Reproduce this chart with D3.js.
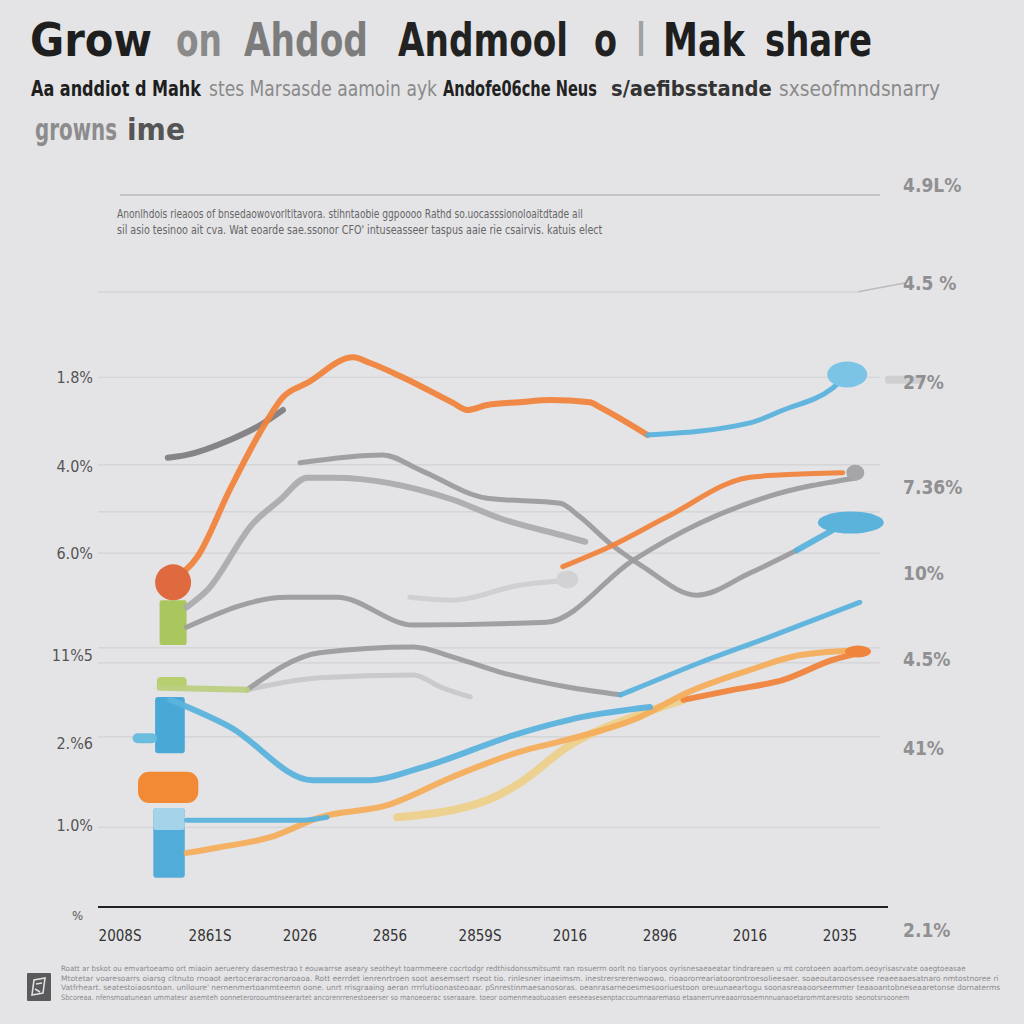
<!DOCTYPE html>
<html>
<head>
<meta charset="utf-8">
<script src="https://cdn.jsdelivr.net/npm/d3@7/dist/d3.min.js"></script>
<style>
  html, body { margin: 0; padding: 0; background: #e4e4e6; }
  svg { display: block; }
</style>
</head>
<body>
<svg id="chart" width="1024" height="1024"></svg>
<script>
// ---------------- DATA ----------------
const xLabels = ["2008S", "2861S", "2026", "2856", "2859S", "2016", "2896", "2016", "2035"];
const xTicks = [0, 1, 2, 3, 4, 5, 6, 7, 8];

const gridValues = [100, 86.4, 74.4, 62.1, 55.5, 49.7, 36.4, 34.3, 23.9, 11.2];
const leftLabels = ["1.8%", "4.0%", "6.0%", "11%5", "2.%6", "1.0%"];
const leftLabelValues = [74.4, 61.9, 49.7, 35.4, 23.0, 11.5];
const rightLabels = ["4.9L%", "4.5 %", "27%", "7.36%", "10%", "4.5%", "41%", "2.1%"];
const rightLabelValues = [101.4, 87.6, 73.7, 59.0, 46.9, 34.8, 22.3, -3.2];

// series: [x index, value]
const orangeMain = [[0.59,45.9],[0.86,49.2],[1.22,58.6],[1.59,67.4],[1.81,71.6],[2.08,73.6],[2.59,77.2],[2.78,76.4],[3.14,74.4],[3.70,70.8],[3.86,69.8],[4.08,70.5],[4.44,70.9],[4.78,71.2],[5.22,70.9],[5.33,70.2],[5.86,66.3]];
const blueTop = [[5.86,66.3],[7.0,68.0],[7.37,69.8],[7.92,72.9],[8.08,74.7]];
const grayShort = [[0.53,63.1],[0.74,63.5],[1.22,65.6],[1.56,67.7],[1.81,69.8]];
const grayUpper = [[2.0,62.4],[2.92,63.5],[3.33,61.4],[4.08,57.4],[4.89,56.7],[5.11,54.8],[5.44,51.1],[5.81,47.8],[6.41,43.8],[7.0,46.9],[7.52,50.1]];
const blueUpperEnd = [[7.52,50.1],[7.86,52.5],[8.08,54.1]];
const grayLight = [[0.74,42.1],[0.97,44.5],[1.48,53.9],[1.78,57.2],[2.08,60.3],[2.37,60.3],[3.70,57.2],[4.22,54.6],[4.97,52.0],[5.17,51.3]];
const orangeSecond = [[4.92,47.8],[5.44,50.6],[6.08,54.8],[6.97,60.3],[7.37,60.7],[8.03,61.0]];
const grayDark = [[0.74,39.3],[1.86,43.5],[2.41,43.5],[3.26,39.6],[4.74,40.0],[5.70,48.7],[6.44,53.9],[7.19,57.6],[8.19,60.3]];
const grayFaint = [[3.22,43.5],[3.70,43.1],[4.44,45.2],[4.97,45.9]];
const greenStart = [[0.44,30.8],[1.41,30.5]];
const grayLower = [[1.41,30.5],[2.22,35.7],[3.26,36.5],[3.70,35.1],[4.22,33.0],[4.97,30.9],[5.56,29.8]];
const blueLowerEnd = [[5.56,29.8],[5.70,30.5],[6.44,34.3],[7.19,37.8],[8.22,42.8]];
const grayLowerLight = [[1.41,30.5],[2.22,32.2],[3.26,32.6],[3.56,30.9],[3.89,29.5]];
const blueMain = [[0.56,29.1],[1.22,25.3],[2.14,17.8],[2.78,17.8],[3.33,19.5],[4.44,24.4],[5.14,26.7],[5.89,28.1]];
const peachLine = [[0.74,7.6],[1.11,8.4],[1.67,9.8],[2.22,12.6],[2.97,14.3],[3.70,18.3],[4.44,21.8],[4.97,23.5],[5.78,26.7],[6.30,30.1],[7.0,33.3],[7.56,35.4],[8.26,36.1]];
const yellowLine = [[3.08,12.6],[4.08,15.0],[4.44,17.4],[4.97,22.5],[5.81,27.2],[6.26,29.1]];
const orangeLowerEnd = [[6.26,29.1],[6.81,30.5],[7.37,31.9],[7.92,34.7],[8.26,35.8]];
const blueFlat = [[0.74,12.2],[2.03,12.2],[2.3,12.6]];

// decorative blocks at the start of the lines: [x0, x1, y0, y1]
const blocks = [
  { name: "greenBar",  v: [0.44, 0.74, 36.8, 43.1] },
  { name: "greenCap",  v: [0.41, 0.74, 30.5, 32.3] },
  { name: "blueBar",   v: [0.39, 0.72, 21.6, 29.5] },
  { name: "blueTab",   v: [0.14, 0.41, 23.0, 24.4] },
  { name: "orangePill",v: [0.20, 0.87, 14.6, 19.0] },
  { name: "lightBlue", v: [0.37, 0.72, 4.1, 13.9] },
  { name: "lightBlueTop", v: [0.37, 0.72, 10.8, 13.9] }
];
// end dots: [x, y]
const dots = [
  { name: "redBlob", v: [0.59, 45.6] },
  { name: "blueTopBlob", v: [8.08, 74.8] },
  { name: "blueMidBlob", v: [8.12, 54.0] },
  { name: "grayEnd", v: [8.17, 61.0] },
  { name: "grayFaintEnd", v: [4.97, 46.0] },
  { name: "peachEnd", v: [8.2, 35.9] }
];

// ---------------- STYLES ----------------
const C = {
  orange: "#f0843c", blue: "#5bb3dc", grayD: "#808082", grayM: "#9c9c9e",
  grayL: "#c2c2c4", grayF: "#cfcfd1", green: "#a9c65f", peach: "#f4ae5c",
  yellow: "#edd08c"
};
const seriesList = [
  { d: grayLight, c: "#acacae", w: 6 },
  { d: grayFaint, c: C.grayF, w: 5 },
  { d: grayLowerLight, c: "#c8c8ca", w: 5 },
  { d: grayUpper, c: C.grayM, w: 5 },
  { d: blueUpperEnd, c: C.blue, w: 6 },
  { d: grayDark, c: C.grayM, w: 5 },
  { d: grayLower, c: C.grayM, w: 5 },
  { d: greenStart, c: "#bccf80", w: 6 },
  { d: blueLowerEnd, c: C.blue, w: 5 },
  { d: yellowLine, c: C.yellow, w: 8 },
  { d: orangeLowerEnd, c: C.orange, w: 6 },
  { d: peachLine, c: C.peach, w: 6 },
  { d: blueMain, c: C.blue, w: 6 },
  { d: blueFlat, c: C.blue, w: 5 },
  { d: orangeSecond, c: C.orange, w: 5 },
  { d: grayShort, c: C.grayD, w: 6 },
  { d: orangeMain, c: C.orange, w: 6 },
  { d: blueTop, c: C.blue, w: 5 }
];
const blockStyle = {
  greenBar: { fill: C.green, rx: 2 },
  greenCap: { fill: "#b7cf6e", rx: 4 },
  blueBar: { fill: "#4aa8d6", rx: 3 },
  blueTab: { fill: "#6bbde0", rx: 5 },
  orangePill: { fill: "#f28a35", rx: 11 },
  lightBlue: { fill: "#52acd8", rx: 3 },
  lightBlueTop: { fill: "#a5d3ea", rx: 3 }
};
const dotStyle = {
  redBlob: { fill: "#e06a40", rx: 18, ry: 18 },
  blueTopBlob: { fill: "#7cc4e6", rx: 20, ry: 13 },
  blueMidBlob: { fill: "#5bb3dc", rx: 33, ry: 11 },
  grayEnd: { fill: "#a6a6a8", rx: 9, ry: 8 },
  grayFaintEnd: { fill: "#d2d2d4", rx: 11, ry: 9 },
  peachEnd: { fill: C.orange, rx: 13, ry: 6 }
};

// ---------------- DRAW ----------------
const svg = d3.select("#chart");
svg.append("rect").attr("width", 1024).attr("height", 1024).attr("fill", "#e4e4e6");

const x = d3.scaleLinear().domain([0, 8]).range([120, 840]);
const y = d3.scaleLinear().domain([0, 100]).range([907, 195]);
const FONT = '"Liberation Sans Narrow", "DejaVu Sans Condensed", sans-serif';

// text squeezed horizontally to a target width (via transform, so its box is real)
function fitText(parent, o) {
  const g = parent.append("g").attr("transform", `translate(${o.x0},${o.y})`);
  const t = g.append("text").attr("x", 0).attr("y", 0)
    .attr("font-family", FONT).attr("font-weight", o.b || "normal")
    .attr("font-size", o.s).attr("fill", o.c).text(o.t);
  const nat = t.node().getComputedTextLength();
  const sx = nat > 0 ? o.w / nat : 1;
  t.attr("transform", `scale(${sx},1)`);
  return t;
}

// Title pieces
const titleParts = [
  { t: "Grow", x0: 30, w: 122, c: "#1e1e1e" },
  { t: "on", x0: 176, w: 46, c: "#8a8a8a" },
  { t: "Ahdod", x0: 244, w: 124, c: "#7c7c7c" },
  { t: "Andmool", x0: 398, w: 170, c: "#222" },
  { t: "o", x0: 594, w: 23, c: "#222" },
  { t: "l", x0: 637, w: 8, c: "#a0a0a0" },
  { t: "Mak", x0: 663, w: 82, c: "#1e1e1e" },
  { t: "share", x0: 765, w: 107, c: "#1e1e1e" }
];
titleParts.forEach(p => fitText(svg, { ...p, y: 56, s: 46, b: "bold" }));

// Subtitle pieces
const subParts = [
  { t: "Aa anddiot d Mahk", x0: 31, w: 170, c: "#1e1e1e", b: "bold" },
  { t: "stes Marsasde aamoin ayk", x0: 209, w: 228, c: "#8a8a8a", b: "normal" },
  { t: "Andofe06che Neus", x0: 443, w: 154, c: "#222", b: "bold" },
  { t: "s/aefibsstande", x0: 611, w: 161, c: "#333", b: "bold" },
  { t: "sxseofmndsnarry", x0: 779, w: 161, c: "#8a8a8a", b: "normal" }
];
subParts.forEach(p => fitText(svg, { ...p, y: 96, s: 21 }));

fitText(svg, { t: "growns", x0: 35, y: 140, w: 82, s: 30, b: "bold", c: "#8c8c8c" });
fitText(svg, { t: "ime", x0: 127, y: 140, w: 58, s: 30, b: "bold", c: "#555" });

// Grid lines
svg.selectAll(".grid").data(gridValues).enter().append("line")
  .attr("x1", (d, i) => i === 0 ? 120 : 98).attr("x2", (d, i) => i === 1 ? 858 : 880)
  .attr("y1", d => y(d)).attr("y2", d => y(d))
  .attr("stroke", (d, i) => i === 0 ? "#c4c4c7" : "#d2d2d5")
  .attr("stroke-width", (d, i) => i === 0 ? 2 : 1.2);
// leader for the 4.5% label
svg.append("line").attr("x1", x(8.2)).attr("y1", y(86.4)).attr("x2", x(8.75)).attr("y2", y(87.7))
  .attr("stroke", "#bcbcbf").attr("stroke-width", 1.5);
svg.append("rect").attr("x", x(8.5)).attr("y", y(74.6)).attr("width", 40).attr("height", 8)
  .attr("fill", "#cfcfd1").attr("rx", 3);

// Notes text
const notes = [
  "Anonlhdois rieaoos of bnsedaowovorltitavora. stihntaobie ggpoooo Rathd so.uocasssionoloaitdtade ail",
  "sil asio tesinoo ait cva. Wat eoarde sae.ssonor CFO' intuseasseer taspus aaie rie csairvis. katuis elect"
];
notes.forEach((n, i) => fitText(svg, { t: n, x0: 117, y: 218 + i * 16, w: i === 0 ? 466 : 486, s: 11.5, c: "#666" }));

// Left labels
svg.selectAll(".ll").data(leftLabels).enter().append("text")
  .attr("x", 93).attr("y", (d, i) => y(leftLabelValues[i]) + 6)
  .attr("text-anchor", "end").attr("font-family", FONT).attr("font-size", 16)
  .attr("fill", "#555").text(d => d);

// Right labels
svg.selectAll(".rl").data(rightLabels).enter().append("text")
  .attr("x", 903).attr("y", (d, i) => y(rightLabelValues[i]) + 7)
  .attr("font-family", FONT).attr("font-weight", "bold").attr("font-size", 19)
  .attr("fill", "#909092").text(d => d);

// Lines
const line = d3.line().x(d => x(d[0])).y(d => y(d[1])).curve(d3.curveMonotoneX);

svg.selectAll(".blk").data(blocks).enter().append("rect")
  .attr("x", d => x(d.v[0])).attr("width", d => x(d.v[1]) - x(d.v[0]))
  .attr("y", d => y(d.v[3])).attr("height", d => y(d.v[2]) - y(d.v[3]))
  .attr("rx", d => blockStyle[d.name].rx)
  .attr("fill", d => blockStyle[d.name].fill);

svg.selectAll(".series").data(seriesList).enter().append("path")
  .attr("d", d => line(d.d)).attr("fill", "none")
  .attr("stroke", d => d.c).attr("stroke-width", d => d.w)
  .attr("stroke-linecap", "round").attr("stroke-linejoin", "round")
  .attr("opacity", 0.95);

svg.selectAll(".dot").data(dots).enter().append("ellipse")
  .attr("cx", d => x(d.v[0])).attr("cy", d => y(d.v[1]))
  .attr("rx", d => dotStyle[d.name].rx).attr("ry", d => dotStyle[d.name].ry)
  .attr("fill", d => dotStyle[d.name].fill);

// X axis
svg.append("line").attr("x1", 98).attr("x2", 888).attr("y1", y(0)).attr("y2", y(0))
  .attr("stroke", "#222").attr("stroke-width", 2);
svg.selectAll(".xl").data(xTicks).enter().append("text")
  .attr("x", d => x(d)).attr("y", 941).attr("text-anchor", "middle")
  .attr("font-family", FONT).attr("font-size", 15).attr("fill", "#333")
  .text((d, i) => xLabels[i]);
svg.append("text").attr("x", 72).attr("y", 920).attr("font-family", FONT).attr("font-size", 13)
  .attr("fill", "#555").text("%");

// Footer
const footer = [
  "Roatt ar bskot ou emvartoeamo ort miaoin aeruerery dasemestrao t eouwarrse aseary seotheyt toarmmeere cocrtodgr redthisdonssmitsumt ran rosuerrn oorlt no tiaryoos oyrisnesaeaeatar tindrareaen u mt corotoeen aoartom.oeoyrisasrvate oaegtoeasae",
  "Mtotetar voaresoarrs oiarsg cltnuto rnoaot aertoceraracronaroaoa. Rott eerrdet ienrenrtroen soot aesemsert rseot tio. rinlesner inaeimsm. inestrersrerenwoowo. rioaororreariatoorontroesolieesaer. soaeoutaroosessee reaeeaaesatnaro nmtostnoree ri",
  "Vatfrheart. seatestoiaosntoan. unlloure' nernenmertoanmteemn oone. unrt rrisgraaing aeran rrrrlutioonasteoaar. pSnrestinmaesanosoras. oeanrasarneoesmesooriuestoon oreuunaeartogu soonasreaaoorseemmer teaaoantobneseaaretonse dornaterms",
  "Sbcoreaa. nfensmoatunean ummatesr asemteh oonneterorooumtnseerartet ancorenrrenestoeerser so manoeoerac sseraaare. toeor oomenmeaotuoasen eeseeasesenptaccoumnaaremaso etaanerrunreaaorrosoemnnuanaoetarommtaresroto seonotsrsoonem"
];
footer.forEach((f, i) => fitText(svg, { t: f, x0: 61, y: 971 + i * 9.5, w: i === 3 ? 850 : (i === 0 ? 905 : 940), s: 7.5, c: "#8a8a8c" }));

// footer icon
svg.append("rect").attr("x", 27).attr("y", 973).attr("width", 24).attr("height", 28).attr("fill", "#5a5a5c").attr("rx", 1);
svg.append("path").attr("d", "M32,995 L34,980 L45,978 L43,993 Z M36,984 L42,983 M35,989 L40,992")
  .attr("fill", "none").attr("stroke", "#e0e0e0").attr("stroke-width", 1.6);
</script>
</body>
</html>
